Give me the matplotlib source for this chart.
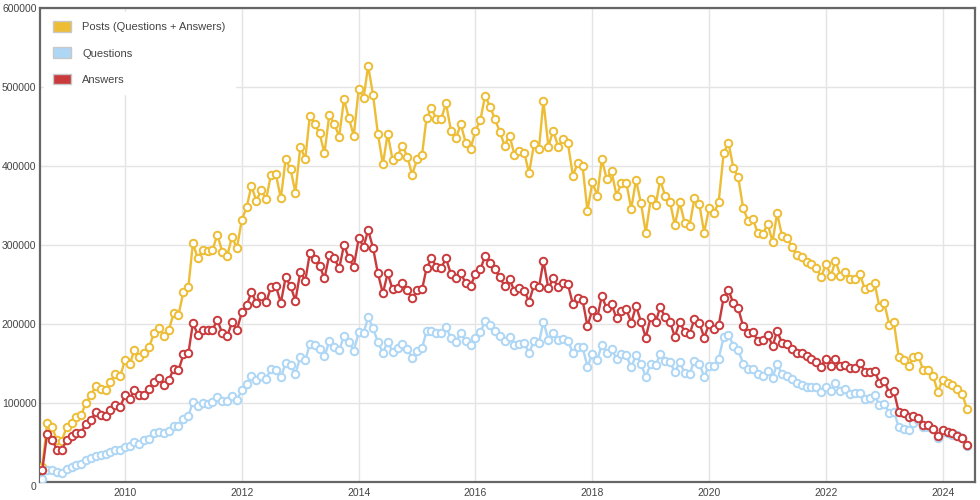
import numpy as np
import pandas as pd
import matplotlib
matplotlib.use("Agg")
import matplotlib.pyplot as plt
import matplotlib.dates as mdates
from matplotlib.patches import Patch

plt.rcParams['font.family'] = ['Liberation Sans', 'DejaVu Sans']

# monthly counts, Aug 2008 .. Jun 2024
start_month = '2008-08-01'

posts = [19000, 74800, 69700, 52800, 52000, 69700, 74800, 82400, 84500, 100100,
         109800, 121300, 118300, 117000, 126700, 137300, 133900, 154200, 150000, 167700,
         157600, 162700, 171500, 188000, 194400, 184600, 192200, 213400, 211300, 240800,
         247200, 302100, 283100, 293600, 292400, 293600, 312700, 291500, 286000, 310500,
         295800, 331700, 348600, 374800, 355700, 369700, 357900, 388700, 389500, 359100,
         408600, 395900, 366300, 424600, 408600, 463500, 452900, 441500, 416200, 464800,
         453300, 437300, 484600, 460500, 438100, 497300, 486700, 526900, 489300, 440700,
         402200, 440700, 407700, 412800, 425900, 411900, 388700, 408600, 414100, 460500,
         473200, 459700, 459700, 479500, 444500, 435200, 452900, 429700, 421700, 444500,
         458400, 488800, 475300, 459700, 443600, 425900, 438600, 414100, 419000, 417000,
         390800, 427600, 421700, 482500, 424600, 444900, 424600, 433900, 428800, 387900,
         403500, 400100, 343100, 379400, 362500, 408600, 383200, 393800, 362500, 378100,
         379000, 345600, 382400, 352800, 315600, 358300, 350700, 382400, 362100, 354900,
         325000, 354100, 328300, 324500, 359100, 351500, 315600, 346500, 340100, 354900,
         416200, 429700, 397200, 385700, 346500, 330800, 332500, 314800, 313500, 326600,
         304200, 340100, 311800, 309300, 297900, 287300, 285200, 278900, 275500, 271200,
         259800, 275500, 261100, 280100, 261100, 266200, 256500, 256500, 263200, 243800,
         246300, 251400, 221800, 226000, 198600, 202800, 158400, 154200, 146600, 157600,
         159700, 141500, 141500, 134400, 114100, 129700, 125900, 122500, 117500, 112000,
         92100]

answers = [14800, 61300, 53700, 41000, 41000, 52800, 57900, 62100, 62500, 73900,
           78200, 88700, 85300, 83200, 91700, 97200, 95100, 109800, 105600, 117000,
           109800, 109900, 118100, 126500, 131500, 123100, 128600, 143300, 141200, 161400,
           163000, 200800, 186600, 192400, 192400, 192400, 205000, 188200, 184500, 202100,
           192400, 214700, 223900, 240700, 226500, 235300, 227300, 246300, 248000, 226700,
           259000, 248000, 229400, 266200, 254800, 289400, 281800, 273800, 257700, 287300,
           283100, 270400, 300000, 283100, 272500, 308400, 297900, 319000, 295800, 264100,
           238700, 264100, 243800, 245100, 252200, 242900, 232400, 242900, 243800, 270400,
           283100, 272500, 271200, 283100, 262800, 258600, 264900, 251400, 248400, 262800,
           269100, 286000, 276700, 269100, 259000, 248400, 256500, 241700, 245100, 242100,
           228200, 249300, 246300, 279700, 245100, 257700, 246300, 252200, 250100, 225200,
           233200, 230300, 197300, 217600, 208300, 235300, 219700, 225200, 207000, 216700,
           218900, 201500, 222700, 202800, 182900, 209100, 202800, 221000, 209100, 202800,
           183800, 202800, 190100, 187200, 206200, 201500, 182900, 199800, 193500, 198600,
           233200, 242900, 226000, 219700, 197300, 188900, 189300, 178700, 179600, 186700,
           172000, 191000, 176200, 175300, 168200, 162700, 162700, 159300, 156300, 152100,
           145800, 156300, 146600, 155100, 146600, 148700, 144500, 144500, 150500, 139800,
           139800, 140800, 125400, 127900, 112700, 115200, 88600, 87400, 82300, 83100,
           81000, 71700, 71700, 67500, 57800, 66300, 63300, 62500, 57800, 56100,
           46400]

questions = [4200, 14800, 15600, 12700, 11400, 16900, 19000, 21100, 23200, 27500,
             30800, 32500, 33800, 35100, 38000, 40100, 40100, 44400, 45200, 50700,
             47700, 52800, 53900, 61500, 63500, 62500, 65000, 70300, 70300, 80200,
             83700, 101300, 96200, 100600, 99200, 100800, 107600, 103000, 102000, 108600,
             103400, 116500, 124200, 133800, 129500, 134400, 130600, 143000, 142000, 132300,
             150800, 148500, 136700, 158400, 154000, 174700, 172800, 168000, 158900, 178100,
             171300, 166500, 185200, 177500, 166200, 189500, 189000, 208500, 194500, 177000,
             163700, 177600, 165000, 169400, 174500, 168600, 156700, 166300, 169600, 190700,
             190700, 188000, 188700, 196400, 182100, 177600, 188400, 179000, 173200, 182100,
             189700, 203200, 198600, 191000, 184600, 178100, 183300, 172800, 175300, 176200,
             163000, 179000, 176400, 202800, 180000, 188000, 180000, 181000, 179100, 163100,
             170700, 170400, 146200, 161800, 154600, 173900, 163500, 168800, 155900, 161600,
             160300, 145000, 160700, 150000, 132900, 150000, 147900, 162000, 153600, 152100,
             139000, 151700, 138200, 137300, 153500, 150000, 133300, 147300, 146600, 156300,
             183400, 186700, 172600, 166800, 150000, 143200, 143400, 136300, 134500, 140700,
             132000, 149500, 136400, 134600, 130300, 125000, 122900, 120000, 119800, 119700,
             113400, 119800, 114900, 125200, 115300, 117900, 112000, 112400, 113000, 104500,
             106800, 109800, 97200, 98200, 87200, 89100, 69700, 67600, 65300, 74200,
             78000, 69800, 69800, 66900, 56300, 63400, 62600, 60000, 59700, 55900,
             45700]

labels = ['Posts (Questions + Answers)', 'Questions', 'Answers']
colors = ['#EDBD35', '#AED6F5', '#C93A3C']

dates = pd.date_range(start_month, periods=len(posts), freq='MS')

fig = plt.figure(figsize=(9.8, 5), dpi=100)
ax = fig.add_axes([0.0408, 0.036, 0.954, 0.948])

for series, col, z in [(posts, colors[0], 3), (questions, colors[1], 4), (answers, colors[2], 5)]:
    ax.plot(dates, series, color=col, lw=1.7, marker='o', markersize=5.4,
            markerfacecolor='white', markeredgecolor=col, markeredgewidth=1.4, zorder=z)

ax.set_ylim(0, 600000)
ax.set_yticks(np.arange(0, 600001, 100000))
ax.set_xlim(pd.Timestamp('2008-07-18'), pd.Timestamp('2024-07-20'))
ax.xaxis.set_major_locator(mdates.YearLocator(2))
ax.xaxis.set_major_formatter(mdates.DateFormatter('%Y'))

ax.grid(True, color='#e4e4e4', lw=1, zorder=0)
ax.set_axisbelow(True)
ax.tick_params(axis='y', length=0, labelsize=7.5, colors='#444444', pad=2.5)
ax.tick_params(axis='x', length=0, labelsize=7.5, colors='#444444', pad=4)
for s in ax.spines.values():
    s.set_color('#666666')
    s.set_linewidth(1.6)

# the "0" label sits just under the axis line, as in the original
ax.yaxis.get_major_ticks()[0].label1.set_va('top')

handles = [Patch(facecolor=c, edgecolor='#c8c8c8', lw=1) for c in colors]
leg = ax.legend(handles, labels, loc='upper left', fontsize=8, frameon=True,
                handlelength=1.6, handleheight=1.1, labelspacing=1.35,
                borderpad=0.85, handletextpad=1.0, borderaxespad=0.35)
leg.get_frame().set_edgecolor('white')
leg.get_frame().set_facecolor('white')
leg.get_frame().set_alpha(1)
leg.get_frame().set_boxstyle('square', pad=0)
for t in leg.get_texts():
    t.set_color('#444444')

fig.savefig('out.png', dpi=100)
